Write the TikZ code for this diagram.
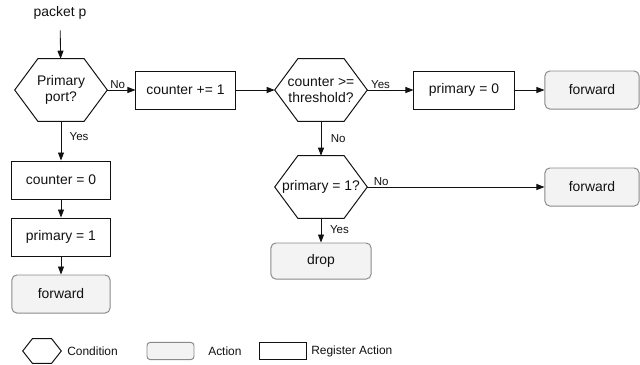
\documentclass[tikz,border=0pt]{standalone}
\usepackage{fontspec}
\setmainfont{Liberation Sans}
\usepackage{tikz}
\usetikzlibrary{arrows.meta,positioning,calc}
\definecolor{actfill}{HTML}{F3F3F3}
\definecolor{actline}{HTML}{8A8A8A}
\definecolor{inktext}{HTML}{111111}
\tikzset{
  condnode/.style={minimum width=2.3cm,minimum height=1.55cm,inner sep=0pt,align=center,font=\fontsize{9.9}{11}\selectfont},
  regnode/.style={draw,line width=0.7pt,minimum width=2.475cm,minimum height=0.95cm,align=center,font=\fontsize{9.9}{11}\selectfont},
  actnode/.style={draw=actline,fill=actfill,line width=0.7pt,rounded corners=1.2mm,minimum width=2.45cm,minimum height=0.95cm,align=center,font=\fontsize{9.9}{11}\selectfont},
  hexline/.style={line width=0.7pt},
  flow/.style={-{Triangle[length=2mm,width=1.5mm]},line width=0.6pt},
  lbl/.style={font=\fontsize{8.2}{9}\selectfont,inner sep=1pt},
  legtext/.style={font=\fontsize{8.5}{10}\selectfont,anchor=west,inner sep=0pt}
}
\begin{document}
\begin{tikzpicture}[x=0.025cm,y=-0.025cm,color=inktext]
\useasboundingbox (0,0) rectangle (640,364);

% main flow
\node[font=\fontsize{9.9}{11}\selectfont] (pkt) at (60,13) {packet p};
\node[condnode] (port) at (61,90) {Primary\\port?};
\node[regnode] (inc) at (185.5,90) {counter += 1};
\node[condnode] (thr) at (321,90) {counter >=\\threshold?};
\node[regnode,minimum width=2.5cm] (pzero) at (464,90) {primary = 0};
\node[actnode,minimum width=2.35cm] (fwda) at (592,90) {forward};
\node[condnode] (prim) at (321,187) {primary = 1?};
\node[actnode,minimum width=2.35cm] (fwdb) at (592,187) {forward};
\node[actnode,minimum width=2.5cm,minimum height=0.9cm] (drop) at (321,261) {drop};
\node[regnode,minimum width=2.45cm] (czero) at (61,180) {counter = 0};
\node[regnode,minimum width=2.45cm] (pone) at (61,237) {primary = 1};
\node[actnode] (fwdc) at (61,294) {forward};

% legend
\node[condnode,minimum width=0.95cm,minimum height=0.6cm] (legcond) at (42,351) {};
\node[legtext] (legcondtxt) at (67,351) {Condition};
\node[actnode,minimum width=1.175cm,minimum height=0.43cm,rounded corners=0.8mm] (legact) at (170.5,351) {};
\node[legtext] (legacttxt) at (208,351) {Action};
\node[regnode,minimum width=1.175cm,minimum height=0.43cm,line width=0.6pt] (legreg) at (282.5,351) {};
\node[legtext] (legregtxt) at (311,351) {Register Action};

\foreach \h in {port,thr,prim,legcond}
  \draw[hexline] (\h.west) -- ($(\h.north west)!0.25!(\h.north east)$) -- ($(\h.north east)!0.25!(\h.north west)$)
    -- (\h.east) -- ($(\h.south east)!0.25!(\h.south west)$) -- ($(\h.south west)!0.25!(\h.south east)$) -- cycle;

\draw[flow,shorten <=0.15cm] (pkt) -- (port);
\draw[flow] (port.east) -- node[lbl,pos=0,anchor=south west,xshift=0.03cm] {No} (inc.west);
\draw[flow] (inc) -- (thr.west);
\draw[flow] (thr.east) -- node[lbl,pos=0,anchor=south west,xshift=0.05cm] {Yes} (pzero.west);
\draw[flow] (pzero) -- (fwda);
\draw[flow] (thr) -- node[lbl,right,xshift=0.2cm] {No} (prim);
\draw[flow] (prim.east) -- node[lbl,pos=0,anchor=south west,xshift=0.12cm] {No} (fwdb.west);
\draw[flow] (prim) -- node[lbl,right,xshift=0.18cm,pos=0.45] {Yes} (drop);
\draw[flow] (port) -- node[lbl,right,xshift=0.17cm,pos=0.4] {Yes} (czero);
\draw[flow] (czero) -- (pone);
\draw[flow] (pone) -- (fwdc);
\end{tikzpicture}
\end{document}
